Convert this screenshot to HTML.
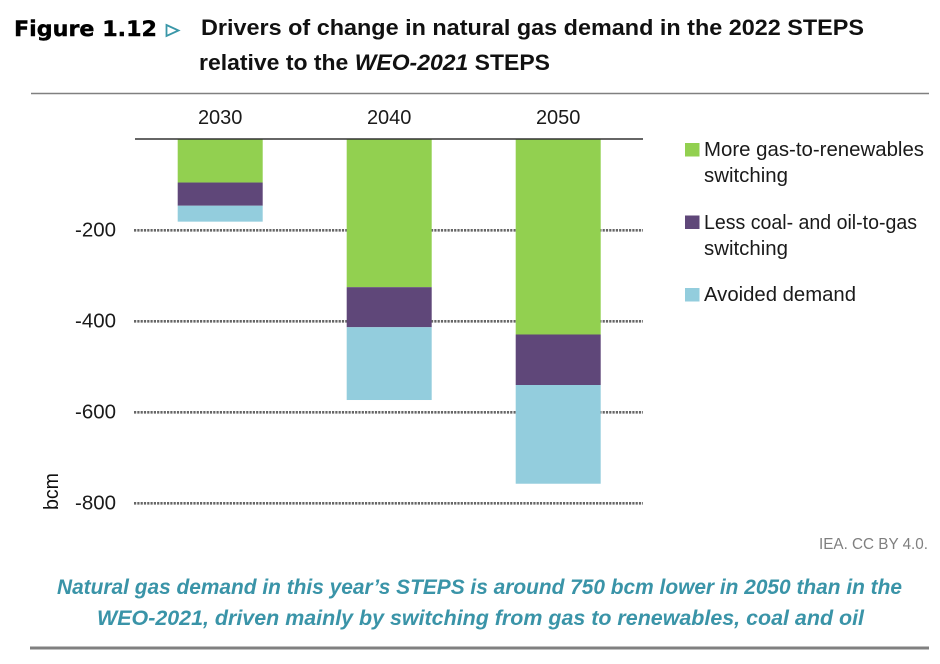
<!DOCTYPE html>
<html lang="en">
<head>
<meta charset="utf-8">
<title>Figure 1.12 Drivers of change in natural gas demand</title>
<style>
html,body{margin:0;padding:0;background:#fff;width:940px;height:664px;overflow:hidden}
svg{display:block;font-family:"Liberation Sans",sans-serif}
</style>
</head>
<body>
<svg id="chart" width="940" height="664" viewBox="0 0 940 664" xmlns="http://www.w3.org/2000/svg">
  <rect x="0" y="0" width="940" height="664" fill="#fff"/>
  <text x="14" y="36" font-family="'DejaVu Sans',sans-serif" font-weight="700" font-size="21" fill="#000" stroke="#000" stroke-width="0.4" textLength="143" lengthAdjust="spacingAndGlyphs">Figure 1.12</text>
  <path d="M166.5 25 L178.5 30.5 L166.5 36 Z" fill="none" stroke="#3a97a8" stroke-width="1.8"/>
  <text x="201" y="35" font-weight="700" font-size="22.5" fill="#111" textLength="663" lengthAdjust="spacingAndGlyphs">Drivers of change in natural gas demand in the 2022 STEPS</text>
  <text x="199" y="70" font-weight="700" font-size="22.5" fill="#111" textLength="351" lengthAdjust="spacingAndGlyphs">relative to the <tspan font-style="italic">WEO-2021</tspan> STEPS</text>
  <line x1="31" y1="93.5" x2="929" y2="93.5" stroke="#808080" stroke-width="1.6"/>

  <g id="grid"></g>
  <g id="yticks"></g>
  <g id="bars"></g>
  <g id="xticks"></g>
  <line x1="135" y1="139" x2="643" y2="139" stroke="#333" stroke-width="1.4"/>
  <text transform="translate(58,510) rotate(-90)" font-size="20" fill="#111" textLength="37" lengthAdjust="spacingAndGlyphs">bcm</text>

  <g id="legend">
    <g>
      <rect x="685" y="143" width="14.5" height="13.5" fill="#92d050"/>
      <text x="704" y="156" font-size="20" fill="#1a1a1a" textLength="220" lengthAdjust="spacingAndGlyphs">More gas-to-renewables</text>
      <text x="704" y="182" font-size="20" fill="#1a1a1a" textLength="84" lengthAdjust="spacingAndGlyphs">switching</text>
    </g>
    <g>
      <rect x="685" y="215.5" width="14.5" height="13.5" fill="#5f4779"/>
      <text x="704" y="229" font-size="20" fill="#1a1a1a" textLength="213" lengthAdjust="spacingAndGlyphs">Less coal- and oil-to-gas</text>
      <text x="704" y="255" font-size="20" fill="#1a1a1a" textLength="84" lengthAdjust="spacingAndGlyphs">switching</text>
    </g>
    <g>
      <rect x="685" y="288" width="14.5" height="13.5" fill="#93cddd"/>
      <text x="704" y="301" font-size="20" fill="#1a1a1a" textLength="152" lengthAdjust="spacingAndGlyphs">Avoided demand</text>
    </g>
  </g>

  <text x="819" y="549" font-size="16" fill="#7f7f7f" textLength="109" lengthAdjust="spacingAndGlyphs">IEA. CC BY 4.0.</text>
  <text x="57" y="594" font-style="italic" font-weight="700" font-size="21.5" fill="#3a94a8" textLength="845" lengthAdjust="spacingAndGlyphs">Natural gas demand in this year’s STEPS is around 750 bcm lower in 2050 than in the</text>
  <text x="97" y="625" font-style="italic" font-weight="700" font-size="21.5" fill="#3a94a8" textLength="767" lengthAdjust="spacingAndGlyphs">WEO-2021, driven mainly by switching from gas to renewables, coal and oil</text>
  <line x1="30" y1="648" x2="929" y2="648" stroke="#808080" stroke-width="3"/>
</svg>
<script>
const categories = ['2030', '2040', '2050'];
const gasToRenewables = [95, 325, 429];
const coalOilToGas = [51, 88, 111];
const avoidedDemand = [35, 160, 217];
const yTicks = [-200, -400, -600, -800];
const yTickLabels = ['-200', '-400', '-600', '-800'];

const NS = 'http://www.w3.org/2000/svg';
const plotLeft = 136, bandWidth = 169, barWidth = 85;
const zeroY = 139.3, pxPerUnit = 0.455;
const yScale = function (v) { return zeroY - v * pxPerUnit; };
const xCenter = function (i) { return plotLeft + bandWidth * (i + 0.5) - 0.3; };
const svgEl = function (tag) { return document.createElementNS(NS, tag); };

const gridGroup = document.getElementById('grid');
const yGroup = document.getElementById('yticks');
yTicks.forEach(function (t, i) {
  const line = svgEl('line');
  
  
  line.setAttribute('x1', 134);
  line.setAttribute('x2', 643);
  line.setAttribute('y1', yScale(t));
  line.setAttribute('y2', yScale(t));
  line.setAttribute('stroke', '#666');
  line.setAttribute('stroke-width', '2.6');
  line.setAttribute('stroke-dasharray', '2.2 1.1');
  gridGroup.appendChild(line);

  const label = svgEl('text');
  
  
  label.setAttribute('x', 75);
  label.setAttribute('y', yScale(t) + 6);
  label.setAttribute('font-size', '20');
  label.setAttribute('fill', '#1a1a1a');
  label.setAttribute('textLength', '41');
  label.setAttribute('lengthAdjust', 'spacingAndGlyphs');
  label.textContent = yTickLabels[i];
  yGroup.appendChild(label);
});

const seriesList = [
  { key: 'renewables', values: gasToRenewables, color: '#92d050' },
  { key: 'coal-oil', values: coalOilToGas, color: '#5f4779' },
  { key: 'avoided-demand', values: avoidedDemand, color: '#93cddd' }
];
const barGroup = document.getElementById('bars');
const xGroup = document.getElementById('xticks');
categories.forEach(function (cat, i) {
  let cumulative = 0;
  seriesList.forEach(function (s) {
    const top = yScale(-cumulative);
    cumulative += s.values[i];
    const bottom = yScale(-cumulative);
    const rect = svgEl('rect');
    
    
    rect.setAttribute('x', xCenter(i) - barWidth / 2);
    rect.setAttribute('y', top);
    rect.setAttribute('width', barWidth);
    rect.setAttribute('height', bottom - top);
    rect.setAttribute('fill', s.color);
    barGroup.appendChild(rect);
  });

  const label = svgEl('text');
  
  
  label.setAttribute('x', xCenter(i));
  label.setAttribute('y', 124);
  label.setAttribute('text-anchor', 'middle');
  label.setAttribute('font-size', '20');
  label.setAttribute('fill', '#1a1a1a');
  label.textContent = cat;
  xGroup.appendChild(label);
});
</script>
</body>
</html>
